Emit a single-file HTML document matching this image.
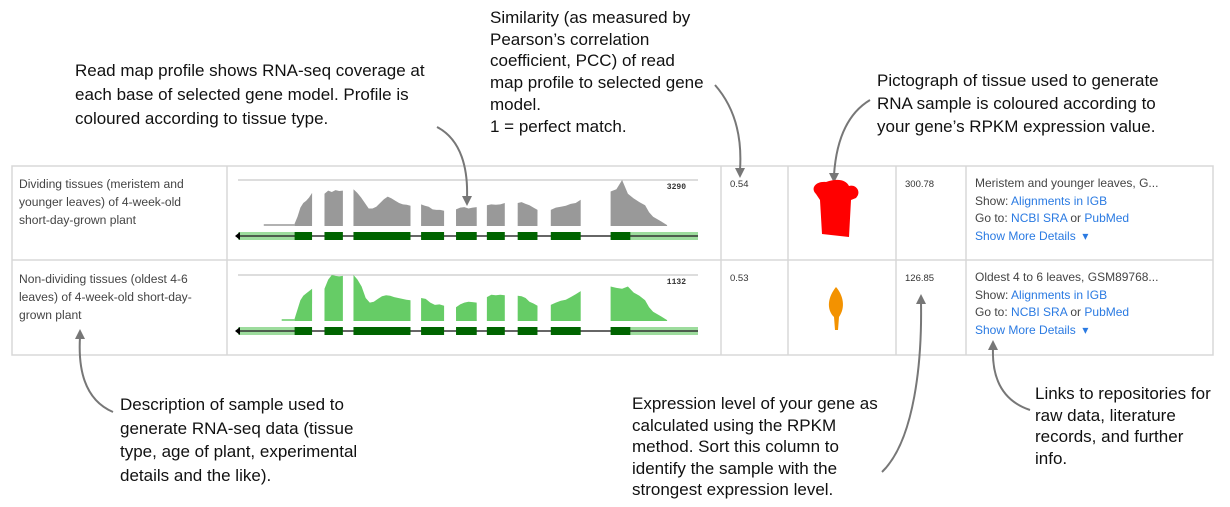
<!DOCTYPE html>
<html><head><meta charset="utf-8">
<style>
body{margin:0;width:1230px;height:507px;background:#fff;position:relative;overflow:hidden;font-family:"Liberation Sans",sans-serif;}
.ann{position:absolute;font-size:17px;color:#111;line-height:24px;white-space:nowrap;}
.cell{position:absolute;font-size:12.1px;color:#444;line-height:18px;white-space:nowrap;}
.lnk{color:#2a7ae2}
.info{position:absolute;font-size:12px;color:#444;line-height:17.5px;white-space:nowrap;}
.num{position:absolute;font-size:9.5px;color:#333;}
</style></head><body>
<div class="ann" style="left:75px;top:59px;">Read map profile shows RNA-seq coverage at<br>each base of selected gene model. Profile is<br>coloured according to tissue type.</div>
<div class="ann" style="left:490px;top:7px;line-height:21.7px;">Similarity (as measured by<br>Pearson’s correlation<br>coefficient, PCC) of read<br>map profile to selected gene<br>model.<br>1 = perfect match.</div>
<div class="ann" style="left:877px;top:69px;line-height:23px;">Pictograph of tissue used to generate<br>RNA sample is coloured according to<br>your gene’s RPKM expression value.</div>
<div class="ann" style="left:120px;top:393px;line-height:23.5px;">Description of sample used to<br>generate RNA-seq data (tissue<br>type, age of plant, experimental<br>details and the like).</div>
<div class="ann" style="left:632px;top:393px;line-height:21.5px;">Expression level of your gene as<br>calculated using the RPKM<br>method. Sort this column to<br>identify the sample with the<br>strongest expression level.</div>
<div class="ann" style="left:1035px;top:383px;line-height:21.7px;">Links to repositories for<br>raw data, literature<br>records, and further<br>info.</div>

<svg id="tbl" width="1230" height="507" style="position:absolute;left:0;top:0">
<g stroke="#d8d8d8" stroke-width="1.5" fill="none">
<rect x="12" y="166" width="1201" height="189"/>
<line x1="12" y1="260" x2="1213" y2="260"/>
<line x1="227" y1="166" x2="227" y2="355"/><line x1="721" y1="166" x2="721" y2="355"/>
<line x1="788" y1="166" x2="788" y2="355"/><line x1="896" y1="166" x2="896" y2="355"/>
<line x1="966" y1="166" x2="966" y2="355"/>
</g>
<g id="charts"></g>
<g stroke="#777" stroke-width="2" fill="none">
<path d="M437,127 C462,140 468,170 467,198"/><path d="M715,85 C737,110 742,140 740,170"/>
<path d="M870,100 C845,115 836,145 834,175"/><path d="M113,412 C85,400 78,370 80,337"/>
<path d="M882,472 C915,440 922,360 921,302"/><path d="M1030,410 C1000,400 992,375 993,348"/>
</g>
<g fill="#777">
<path d="M462,196 L472,196 L467,206Z"/><path d="M735,168 L745,168 L740,178Z"/>
<path d="M829,173 L839,173 L834,183Z"/><path d="M75,339 L85,339 L80,329Z"/>
<path d="M916,304 L926,304 L921,294Z"/><path d="M988,350 L998,350 L993,340Z"/>
</g>
<path d="M816,194 C810,188 816,181 826,182 C838,178 846,180 849,186 C856,184 862,192 856,198 L851,200 L849,237 L822,234 L820,200Z" fill="#f00"/>
<path d="M836,287 C828,297 826,309 834,317 L835,330 L838,330 L839,317 C846,307 843,295 836,287Z" fill="#f39200"/>
</svg>

<div class="cell" style="left:19px;top:175px;">Dividing tissues (meristem and<br>younger leaves) of 4-week-old<br>short-day-grown plant</div>
<div class="cell" style="left:19px;top:270px;">Non-dividing tissues (oldest 4-6<br>leaves) of 4-week-old short-day-<br>grown plant</div>
<div class="num" style="left:730px;top:179px;">0.54</div>
<div class="num" style="left:730px;top:273px;">0.53</div>
<div class="num" style="left:905px;top:179px;">300.78</div>
<div class="num" style="left:905px;top:273px;">126.85</div>
<div class="info" style="left:975px;top:175px;">Meristem and younger leaves, G...<br>Show: <span class="lnk">Alignments in IGB</span><br>Go to: <span class="lnk">NCBI SRA</span> or <span class="lnk">PubMed</span><br><span class="lnk">Show More Details &nbsp;▾</span></div>
<div class="info" style="left:975px;top:269px;">Oldest 4 to 6 leaves, GSM89768...<br>Show: <span class="lnk">Alignments in IGB</span><br>Go to: <span class="lnk">NCBI SRA</span> or <span class="lnk">PubMed</span><br><span class="lnk">Show More Details &nbsp;▾</span></div>

<script>
// gene model exons (genomic position units 0..100 across track)
const exonStarts=[12.3,18.8,25.1,39.8,47.4,54.1,60.8,68.0,81.0];
const exonEnds=[16.1,22.8,37.5,44.8,51.9,58.0,65.1,74.5,85.3];
const maxLabels=["3290","1132"];
// coverage samples per exon (fraction of max), evenly across each exon
const cov1=[[0.05,0.2,0.4,0.5,0.55,0.62,0.72],[0.7,0.77,0.74,0.78,0.76,0.77],[0.8,0.72,0.62,0.5,0.38,0.38,0.42,0.5,0.58,0.64,0.6,0.55,0.5,0.47,0.46,0.44],[0.47,0.44,0.42,0.36,0.35,0.35,0.33],[0.36,0.4,0.41,0.38,0.4,0.41],[0.45,0.47,0.46,0.47,0.5],[0.5,0.52,0.48,0.45,0.4,0.35],[0.35,0.4,0.42,0.44,0.48,0.5,0.57],[0.75,0.8,1.0,0.7,0.6,0.52,0.45]];
const cov2=[[0.05,0.25,0.45,0.55,0.6,0.65,0.7],[0.7,0.9,1.0,0.98,0.97,0.98],[1.0,0.9,0.75,0.5,0.4,0.42,0.48,0.54,0.56,0.55,0.52,0.5,0.48,0.46,0.45],[0.5,0.48,0.4,0.35,0.36,0.33],[0.3,0.36,0.4,0.42,0.41,0.4],[0.52,0.57,0.56,0.57,0.56],[0.55,0.54,0.5,0.42,0.38,0.33],[0.35,0.4,0.44,0.46,0.52,0.58,0.65],[0.75,0.72,0.7,0.75,0.62,0.55,0.45]];
const tailStart=[5.6,9.5];
const NS="http://www.w3.org/2000/svg";
const gx0=238,gx1=698;
const xs=v=>gx0+(gx1-gx0)*v/100;
function row(g,top,cov,color,label,ts){
  const base=top+46, h=46, ty=top+56;
  const l=document.createElementNS(NS,'line');
  l.setAttribute('x1',gx0);l.setAttribute('x2',gx1);l.setAttribute('y1',top);l.setAttribute('y2',top);l.setAttribute('stroke','#bbb');
  
  
  g.appendChild(l);
  const t=document.createElementNS(NS,'text');t.textContent=label;t.setAttribute('x',686);t.setAttribute('y',top+9);t.setAttribute('font-size','8');t.setAttribute('text-anchor','end');t.setAttribute('font-weight','bold');t.setAttribute('fill','#333');t.setAttribute('font-family','Liberation Mono, monospace');
  
  
  g.appendChild(t);
  const tl=document.createElementNS(NS,'line');tl.setAttribute('x1',xs(ts));tl.setAttribute('x2',xs(12.3));tl.setAttribute('y1',base-1);tl.setAttribute('y2',base-1);tl.setAttribute('stroke',color);tl.setAttribute('stroke-width','1.5');
  
  
  g.appendChild(tl);
  cov.forEach((c,i)=>{
    let a=xs(exonStarts[i]),b=xs(exonEnds[i]);
    if(i===8) b=xs(88.5);
    let d='M'+a+','+base;
    c.forEach((v,j)=>{const x=a+(b-a)*j/(c.length-1);d+=' L'+x.toFixed(1)+','+(base-v*h).toFixed(1);});
    if(i===8){d+=' L'+(b+4)+','+(base-0.3*h)+' L'+(b+8)+','+(base-0.2*h)+' L'+(b+16)+','+(base-0.1*h)+' L'+(b+22)+','+(base-0.02*h);b=b+22;}
    d+=' L'+b+','+base+'Z';
    const p=document.createElementNS(NS,'path');p.setAttribute('d',d);p.setAttribute('fill',color);
    
    
    g.appendChild(p);
  });
  const utr=document.createElementNS(NS,'rect');utr.setAttribute('x',gx0);utr.setAttribute('y',ty-4);utr.setAttribute('width',gx1-gx0);utr.setAttribute('height',8);utr.setAttribute('fill','#9ddc9d');
  
  
  g.appendChild(utr);
  const mid=document.createElementNS(NS,'rect');mid.setAttribute('x',xs(exonStarts[0]));mid.setAttribute('y',ty-4);mid.setAttribute('width',xs(exonEnds[8])-xs(exonStarts[0]));mid.setAttribute('height',8);mid.setAttribute('fill','#fff');g.appendChild(mid);
  const ln=document.createElementNS(NS,'line');ln.setAttribute('x1',gx0);ln.setAttribute('x2',gx1);ln.setAttribute('y1',ty);ln.setAttribute('y2',ty);ln.setAttribute('stroke','#333');ln.setAttribute('stroke-width','1.5');
  
  
  g.appendChild(ln);
  const ar=document.createElementNS(NS,'path');ar.setAttribute('d',`M${gx0-3},${ty} L${gx0+2},${ty-4} L${gx0+2},${ty+4}Z`);ar.setAttribute('fill','#000');
  
  
  g.appendChild(ar);
  exonStarts.forEach((s,i)=>{const r=document.createElementNS(NS,'rect');r.setAttribute('x',xs(s));r.setAttribute('width',xs(exonEnds[i])-xs(s));r.setAttribute('y',ty-4);r.setAttribute('height',8);r.setAttribute('fill','#006400');
    
    
    g.appendChild(r);});
}
const g=document.getElementById('charts');
row(g,180,cov1,'#999',maxLabels[0],tailStart[0]);
row(g,275,cov2,'#66cc66',maxLabels[1],tailStart[1]);
</script>
</body></html>
